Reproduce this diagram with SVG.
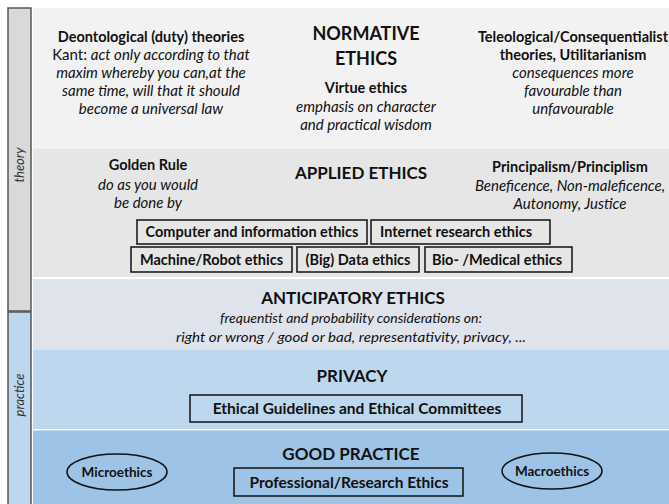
<svg xmlns="http://www.w3.org/2000/svg" width="669" height="504" viewBox="0 0 669 504">
  <style>
    text { font-family: Lato, "Open Sans", "Liberation Sans", sans-serif; fill: #111; text-anchor: middle; }
    .h { font-size: 17px; font-weight: bold; }
    .h18 { font-size: 18px; font-weight: bold; }
    .b { font-size: 14.5px; font-weight: bold; }
    .e { font-size: 13.5px; font-weight: bold; }
    .i { font-size: 15px; font-style: italic; }
    .r { font-size: 15px; }
    .s { font-size: 14px; font-style: italic; }
    .bl { font-size: 15.5px; font-weight: bold; }
    .side { font-size: 13px; font-style: italic; fill: #333; }
    .box { fill: none; stroke: #111; stroke-width: 1.5; }
    .bar { stroke: #555; stroke-width: 1.5; }
  </style>
  <rect width="669" height="504" fill="#ffffff"/>

  <!-- side bar: theory / practice -->
  <g id="sidebar">
    <rect class="bar" x="8" y="8" width="23" height="303" fill="#d9d9d9"/>
    <rect class="bar" x="8" y="312" width="23" height="200" fill="#bdd7ee"/>
    <text class="side" transform="translate(24,165) rotate(-90)">theory</text>
    <text class="side" transform="translate(24,395) rotate(-90)">practice</text>
  </g>

  <!-- horizontal layers -->
  <g id="normative">
    <rect x="33" y="8" width="636" height="140.5" fill="#f2f2f2"/>
    <text class="b" x="151" y="42">Deontological (duty) theories</text>
    <text x="151" y="60"><tspan class="r">Kant: </tspan><tspan class="i">act only according to that</tspan></text>
    <text class="i" x="151" y="78">maxim whereby you can,at the</text>
    <text class="i" x="151" y="96">same time, will that it should</text>
    <text class="i" x="151" y="114">become a universal law</text>
    <text class="h18" x="366" y="40">NORMATIVE</text>
    <text class="h18" x="366" y="65">ETHICS</text>
    <text class="b" x="366" y="93">Virtue ethics</text>
    <text class="i" x="366" y="112">emphasis on character</text>
    <text class="i" x="366" y="130">and practical wisdom</text>
    <text class="b" x="573" y="42">Teleological/Consequentialist</text>
    <text class="b" x="573" y="60">theories, Utilitarianism</text>
    <text class="i" x="573" y="78">consequences more</text>
    <text class="i" x="573" y="96">favourable  than</text>
    <text class="i" x="573" y="114">unfavourable</text>
  </g>

  <g id="applied">
    <rect x="33" y="148.5" width="636" height="128.5" fill="#e6e6e6"/>
    <text class="b" x="148" y="170">Golden Rule</text>
    <text class="i" x="148" y="190">do as you would</text>
    <text class="i" x="148" y="208">be done by</text>
    <text class="h" x="361" y="179">APPLIED ETHICS</text>
    <text class="b" x="570" y="172">Principalism/Principlism</text>
    <text class="i" x="570" y="191">Beneficence, Non-maleficence,</text>
    <text class="i" x="570" y="209">Autonomy, Justice</text>
  </g>

  <g id="computer-info-ethics">
    <rect class="box" x="137" y="220" width="230" height="24"/>
    <text class="b" x="252" y="237">Computer and information ethics</text>
  </g>
  <g id="internet-research-ethics">
    <rect class="box" x="371" y="220" width="179" height="24"/>
    <text class="b" x="456" y="237">Internet research ethics</text>
  </g>
  <g id="machine-robot-ethics">
    <rect class="box" x="131" y="247" width="161" height="25"/>
    <text class="b" x="211.5" y="264.5">Machine/Robot ethics</text>
  </g>
  <g id="big-data-ethics">
    <rect class="box" x="297" y="247" width="122" height="25"/>
    <text class="b" x="358" y="264.5">(Big) Data ethics</text>
  </g>
  <g id="bio-medical-ethics">
    <rect class="box" x="425" y="247" width="147" height="25"/>
    <text class="b" x="497" y="264.5">Bio- /Medical ethics</text>
  </g>

  <g id="anticipatory">
    <rect x="33" y="279" width="636" height="71" fill="#dfe3ec"/>
    <text class="h" x="353" y="304">ANTICIPATORY ETHICS</text>
    <text class="s" x="351" y="323">frequentist and probability considerations on:</text>
    <text class="s" x="351" y="342" textLength="350" lengthAdjust="spacingAndGlyphs">right or wrong / good or bad, representativity, privacy, ...</text>
  </g>

  <g id="privacy">
    <rect x="33" y="350" width="636" height="79" fill="#bdd7ee"/>
    <text class="h" x="352" y="382">PRIVACY</text>
  </g>
  <g id="ethical-guidelines">
    <rect class="box" x="190" y="395" width="332" height="27"/>
    <text class="bl" x="357" y="414">Ethical Guidelines and Ethical Committees</text>
  </g>

  <g id="good-practice">
    <rect x="33" y="430.5" width="636" height="74" fill="#9dc3e6"/>
    <text class="h" x="351" y="460">GOOD PRACTICE</text>
  </g>
  <g id="microethics">
    <ellipse class="box" cx="117" cy="472" rx="50" ry="18"/>
    <text class="e" x="117" y="476.5">Microethics</text>
  </g>
  <g id="macroethics">
    <ellipse class="box" cx="552" cy="471" rx="50" ry="18"/>
    <text class="e" x="552" y="475.5">Macroethics</text>
  </g>
  <g id="professional-research-ethics">
    <rect class="box" x="234" y="468" width="229" height="28"/>
    <text class="bl" x="349" y="487.5">Professional/Research Ethics</text>
  </g>

  <g id="connectors"/>
</svg>
